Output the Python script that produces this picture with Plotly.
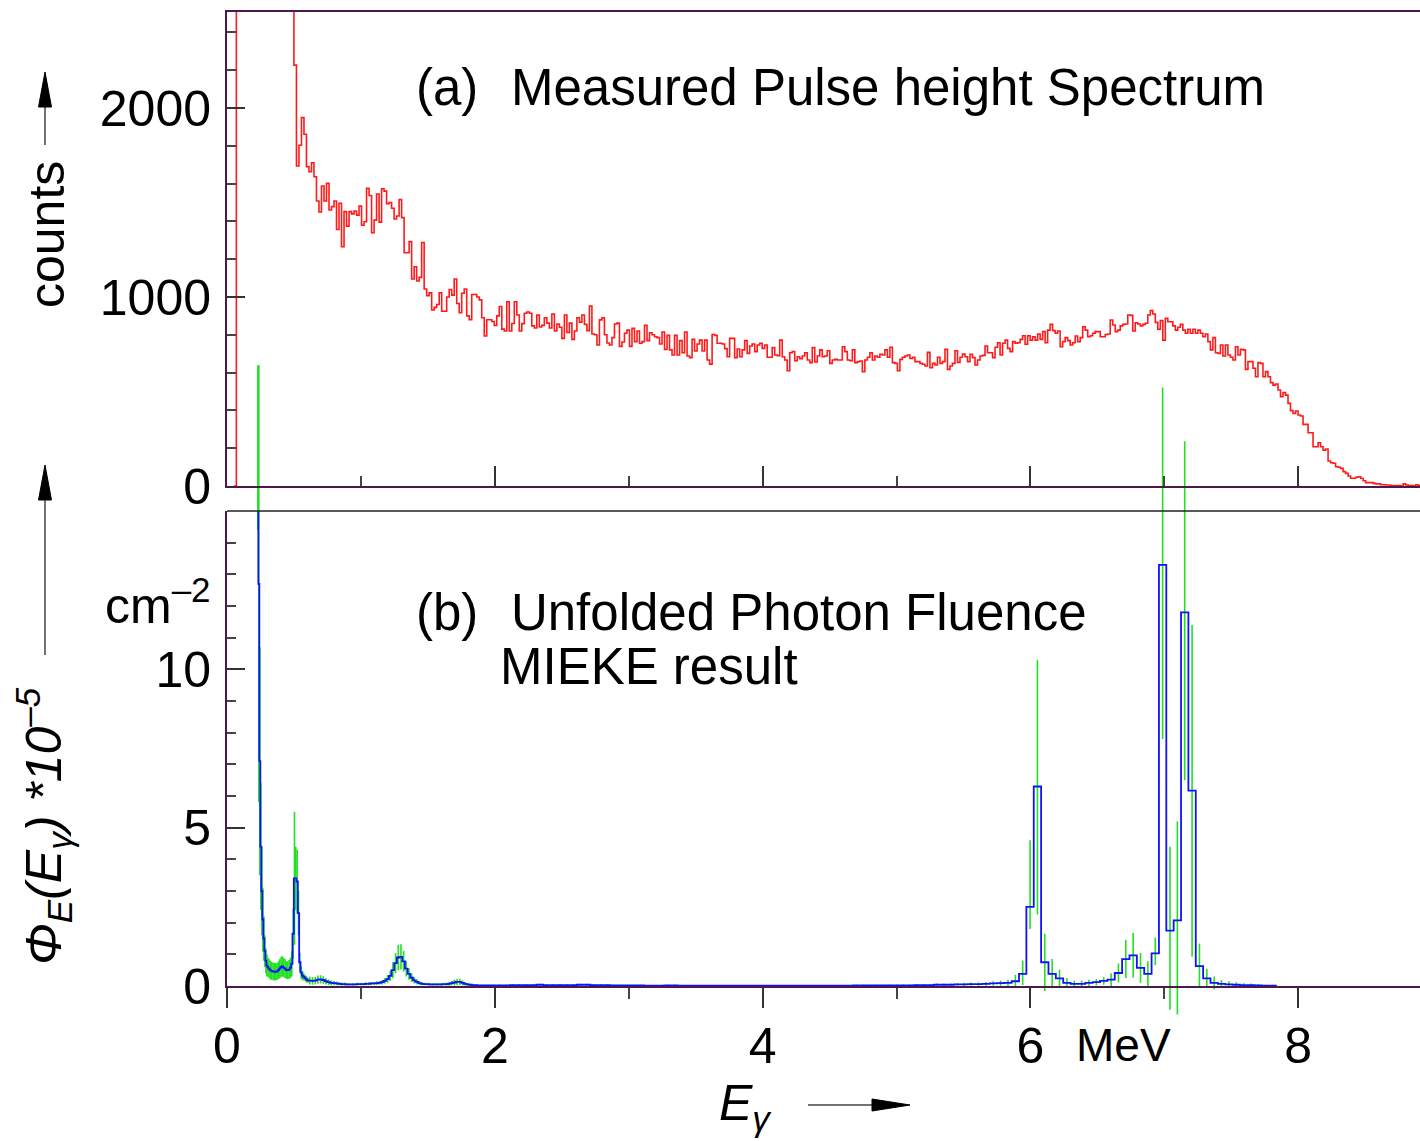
import numpy as np
import plotly.graph_objects as go

# ---------------- measured pulse height spectrum (counts per channel) ----------------
RED_START = 0.0512          # MeV, left edge of first channel
RED_BIN = 0.0187            # MeV per channel

# below 0.5 MeV the spectrum is off scale
RED_LOW = [0, 9200, 8700, 8100, 7600, 7000, 6600, 6200, 5800, 5500, 5200, 4900,
           4700, 4500, 4300, 4100, 3900, 3700, 3600, 3400, 3300, 3100, 3000, 2900]

RED_A = [2227, 1693, 1803, 1949, 1861, 1690, 1663, 1710, 1636, 1508,
         1450, 1587, 1508, 1601, 1460, 1478, 1508, 1357, 1496, 1266,
         1452, 1375, 1452, 1440, 1455, 1433, 1481, 1380, 1398, 1575,
         1537, 1340, 1407, 1545, 1396, 1573, 1560, 1494, 1500, 1470,
         1413, 1429, 1515, 1420, 1234, 1234, 1293, 1095, 1160, 1085,
         1104, 1288, 1042, 1007, 1022, 931, 945, 960, 1022, 925,
         925, 1000, 1040, 1010, 1095, 966, 917, 1020, 1042, 900,
         880, 1013, 1013, 1000, 985, 890, 794, 880, 880, 870,
         850, 900, 950, 830, 820, 975, 820, 860, 975, 905]

RED_B = [820, 859, 914, 921, 914, 847, 836, 905, 841, 850,
         890, 862, 836, 910, 820, 857, 840, 781, 905, 812,
         862, 776, 820, 890, 867, 905, 855, 822, 952, 804,
         800, 746, 879, 890, 800, 757, 746, 785, 857, 862,
         739, 762, 808, 825, 739, 834, 764, 820, 755, 764,
         850, 769, 811, 800, 790, 785, 751, 815, 723, 797,
         720, 693, 797, 693, 769, 705, 815, 688, 679, 776,
         714, 751, 772, 714, 772, 667, 645, 802, 797, 755,
         755, 751, 727, 684, 781, 781, 679, 725, 684, 720,
         769, 702, 741, 751]

RED_C = [711, 746, 755, 728, 746, 681, 681, 732, 693, 690,
         772, 684, 667, 610, 705, 711, 663, 684, 674, 688,
         705, 667, 653, 732, 656, 688, 720, 684, 688, 716,
         649, 667, 670, 667, 667, 737, 711, 667, 663, 720,
         653, 658, 661, 605, 667, 681, 705, 667, 688, 681,
         697, 693, 720, 681, 734, 653, 649, 610, 670, 681,
         688, 693, 675, 681, 658, 658, 649, 644, 635, 707,
         626, 649, 640, 681, 649, 658, 723, 617, 635, 649,
         716, 654, 681, 698, 684, 658, 697, 679, 640, 667,
         688, 691, 741, 705]

RED_D = [705, 679, 734, 758, 693, 755, 772, 728, 711, 764,
         755, 758, 776, 795, 750, 795, 772, 790, 772, 804,
         776, 817, 758, 825, 855, 822, 808, 820, 737, 764,
         785, 769, 746, 758, 794, 764, 785, 843, 825, 790,
         795, 808, 817, 817, 790, 790, 802, 804, 878, 852,
         817, 825, 847, 855, 857, 905, 903, 820, 864, 857,
         847, 855, 861, 905, 928, 910, 866, 829, 875, 772,
         887, 869, 869, 847, 825, 840, 855, 825, 808, 829,
         808, 829, 808, 825, 808, 790, 804, 764, 720, 785,
         705, 702, 746, 688]

RED_E = [746, 693, 681, 667, 737, 693, 723, 720, 617, 658,
         658, 623, 578, 653, 649, 578, 605, 578, 547, 534,
         540, 508, 473, 494, 481, 437, 399, 384, 397, 376,
         370, 326, 326, 282, 282, 208, 208, 229, 208, 190,
         196, 132, 123, 120, 102, 99, 93, 76, 67, 53,
         41, 41, 46, 49, 41, 28, 18, 18, 18, 14,
         11, 11, 7, 7, 5, 5, 2, 2, 2, 2,
         0, 11, 5, 2, 2, 0, 7, 2]

# ---------------- unfolded photon fluence (1e-5 cm^-2), MIEKE result ----------------
# segments of equal bin width: (left edge, width) with values and errors
SEG_START = [0.2265, 0.309, 0.609, 2.009, 5.53]
SEG_WIDTH = [0.0075, 0.01, 0.02, 0.0503, 0.055]

PHI_1 = [17.0, 12.7, 7.1, 4.4, 3.0, 2.1, 1.5, 1.1, 0.8, 0.65, 0.6]
ERR_1 = [2.6, 6.9, 3.6, 2.0, 1.4, 1.0, 0.7, 0.5, 0.4, 0.35, 0.3]

PHI_2 = [0.55, 0.5, 0.48, 0.46, 0.45, 0.45, 0.46, 0.5, 0.55, 0.6,
         0.62, 0.58, 0.55, 0.5, 0.5, 0.52, 0.58, 0.7, 1.65, 3.4,
         3.4, 3.3, 2.3, 0.75, 0.42, 0.33, 0.29, 0.25, 0.21, 0.18]
ERR_2 = [0.3, 0.3, 0.28, 0.28, 0.28, 0.27, 0.27, 0.28, 0.3, 0.32,
         0.32, 0.3, 0.3, 0.28, 0.28, 0.3, 0.32, 0.4, 0.8, 2.1,
         1.0, 1.0, 0.7, 0.3, 0.2, 0.15, 0.12, 0.1, 0.1, 0.08]

PHI_3 = [0.17, 0.16, 0.17, 0.2, 0.21, 0.19, 0.15, 0.12, 0.1, 0.09,
         0.08, 0.07, 0.06, 0.06, 0.05, 0.05, 0.05, 0.05, 0.06, 0.06,
         0.06, 0.07, 0.07, 0.08, 0.08, 0.09, 0.1, 0.12, 0.16, 0.22,
         0.32, 0.5, 0.72, 0.9, 0.92, 0.78, 0.55, 0.38, 0.26, 0.18,
         0.13, 0.09, 0.07, 0.06, 0.06, 0.05, 0.05, 0.05, 0.05, 0.05,
         0.06, 0.06, 0.07, 0.09, 0.11, 0.13, 0.13, 0.1, 0.07, 0.05,
         0.04, 0.03, 0.03, 0.02, 0.02, 0.02, 0.02, 0.02, 0.02, 0.02]
ERR_3 = [0.12, 0.12, 0.12, 0.13, 0.13, 0.12, 0.1, 0.09, 0.08, 0.07,
         0.06, 0.05, 0.05, 0.05, 0.04, 0.04, 0.04, 0.04, 0.04, 0.04,
         0.04, 0.05, 0.05, 0.05, 0.05, 0.06, 0.06, 0.07, 0.09, 0.12,
         0.16, 0.25, 0.32, 0.4, 0.4, 0.33, 0.25, 0.18, 0.13, 0.1,
         0.08, 0.06, 0.05, 0.04, 0.04, 0.04, 0.04, 0.04, 0.04, 0.04,
         0.04, 0.05, 0.06, 0.07, 0.09, 0.1, 0.1, 0.08, 0.06, 0.04,
         0.03, 0.03, 0.03, 0.02, 0.02, 0.02, 0.02, 0.02, 0.02, 0.02]

PHI_4 = [0.02, 0.02, 0.03, 0.03, 0.03, 0.03, 0.04, 0.03, 0.03, 0.03,
         0.03, 0.03, 0.04, 0.04, 0.03, 0.03, 0.03, 0.02, 0.02, 0.02,
         0.02, 0.02, 0.01, 0.01, 0.01, 0.02, 0.02, 0.01, 0.01, 0.01,
         0.01, 0.01, 0.01, 0.01, 0.01, 0.01, 0.01, 0.01, 0.01, 0.01,
         0.01, 0.01, 0.01, 0.01, 0.01, 0.01, 0.01, 0.01, 0.01, 0.01,
         0.01, 0.01, 0.01, 0.02, 0.02, 0.02, 0.02, 0.02, 0.02, 0.02,
         0.02, 0.02, 0.03, 0.03, 0.03, 0.04, 0.04, 0.04, 0.05, 0.05]
ERR_4 = [0.03, 0.03, 0.03, 0.03, 0.03, 0.03, 0.03, 0.03, 0.03, 0.03,
         0.03, 0.03, 0.03, 0.03, 0.03, 0.03, 0.03, 0.02, 0.02, 0.02,
         0.02, 0.02, 0.02, 0.02, 0.02, 0.02, 0.02, 0.02, 0.02, 0.02,
         0.02, 0.02, 0.02, 0.02, 0.02, 0.02, 0.02, 0.02, 0.02, 0.02,
         0.02, 0.02, 0.02, 0.02, 0.02, 0.02, 0.02, 0.02, 0.02, 0.02,
         0.02, 0.02, 0.02, 0.02, 0.02, 0.02, 0.02, 0.02, 0.03, 0.03,
         0.03, 0.03, 0.03, 0.03, 0.03, 0.04, 0.04, 0.04, 0.04, 0.05]

PHI_5 = [0.06, 0.06, 0.07, 0.08, 0.09, 0.1, 0.15, 0.38, 2.5, 6.3,
         0.75, 0.38, 0.24, 0.1, 0.07, 0.07, 0.1, 0.12, 0.16, 0.2,
         0.41, 0.85, 0.97, 0.57, 0.38, 1.03, 13.3, 1.75, 2.07, 11.8,
         6.17, 0.63, 0.24, 0.1, 0.07, 0.05, 0.04, 0.03, 0.03, 0.02,
         0.01, 0.01]
ERR_5_UP = [0.05, 0.05, 0.06, 0.07, 0.08, 0.1, 0.2, 0.42, 2.1, 4.0,
            0.9, 0.47, 0.28, 0.15, 0.1, 0.1, 0.1, 0.1, 0.12, 0.2,
            0.3, 0.6, 0.7, 0.47, 0.4, 0.5, 5.6, 2.65, 3.13, 5.4,
            5.23, 0.71, 0.3, 0.2, 0.12, 0.1, 0.08, 0.06, 0.05, 0.04,
            0.03, 0.03]
ERR_5_DN = [0.05, 0.05, 0.06, 0.07, 0.08, 0.1, 0.15, 0.35, 0.7, 4.04,
            0.91, 0.45, 0.27, 0.15, 0.1, 0.1, 0.1, 0.1, 0.12, 0.2,
            0.3, 0.6, 0.7, 0.47, 0.4, 0.37, 5.5, 2.5, 2.97, 5.3,
            5.25, 0.66, 0.3, 0.2, 0.12, 0.1, 0.08, 0.06, 0.05, 0.04,
            0.03, 0.03]

# ---------------- geometry ----------------
W, H = 1420, 1141
ML, MR, MT, MB = 227, 0, 12, 121
PW, PH = W - ML - MR, H - MT - MB
X_MAX = PW / 133.9

def py(p):   # pixel row -> paper y
    return (H - MB - p) / PH

def px(p):   # pixel column -> paper x
    return (p - ML) / PW

TOP_DOM = [py(486), 1.0]
BOT_DOM = [py(986), py(511)]
PHI_MAX = 15.0
scale = (986 - 511) / PHI_MAX                  # px per unit
GREEN_RANGE = [-(H - MB - 986) / scale, (986 - MT) / scale]

FONT = "Liberation Sans, Arial, sans-serif"
AXC = "#4a1a4a"
RED, BLUE, GREEN = "#ff1a1a", "#1010ff", "#22e022"

# red histogram
counts = RED_LOW + RED_A + RED_B + RED_C + RED_D + RED_E
red_x = RED_START + RED_BIN * np.arange(len(counts) + 1)
red_y = counts + [counts[-1]]

fig = go.Figure()
fig.add_trace(go.Scatter(x=red_x, y=red_y, mode="lines",
                         line=dict(color=RED, width=1.6, shape="hv"),
                         xaxis="x2", yaxis="y", showlegend=False, hoverinfo="skip"))

# green error bars (not clipped to lower panel) and blue histogram
segs = [(PHI_1, ERR_1, ERR_1), (PHI_2, ERR_2, ERR_2), (PHI_3, ERR_3, ERR_3),
        (PHI_4, ERR_4, ERR_4), (PHI_5, ERR_5_UP, ERR_5_DN)]
blue_x, blue_y = [], []
for (vals, up, dn), x0, w in zip(segs, SEG_START, SEG_WIDTH):
    edges = x0 + w * np.arange(len(vals))
    blue_x += list(edges)
    blue_y += list(vals)
    fig.add_trace(go.Scatter(
        x=edges + w / 2, y=vals, mode="markers",
        marker=dict(size=1, color="rgba(0,0,0,0)"),
        error_y=dict(type="data", array=up, arrayminus=dn, symmetric=False,
                     color=GREEN, thickness=1.6, width=0),
        xaxis="x", yaxis="y2", showlegend=False, hoverinfo="skip"))
blue_x.append(SEG_START[-1] + SEG_WIDTH[-1] * len(PHI_5))
blue_y.append(blue_y[-1])
fig.add_trace(go.Scatter(x=blue_x, y=blue_y, mode="lines",
                         line=dict(color=BLUE, width=1.8, shape="hv"),
                         xaxis="x", yaxis="y3", showlegend=False, hoverinfo="skip"))

tick_font = dict(family=FONT, size=50, color="black")

fig.update_layout(
    width=W, height=H,
    margin=dict(l=ML, r=MR, t=MT, b=MB, pad=0),
    paper_bgcolor="white", plot_bgcolor="rgba(0,0,0,0)",
    font=dict(family=FONT, size=50, color="black"),
    xaxis=dict(domain=[0, 1], range=[0, X_MAX], anchor="y3",
               showline=True, linecolor=AXC, linewidth=2,
               ticks="outside", tickvals=[0, 2, 4, 6, 8], ticklen=20, tickwidth=1.5,
               tickcolor="#333", tickfont=tick_font, ticklabelstandoff=-5,
               minor=dict(tickvals=[1, 3, 5, 7], ticks="outside", ticklen=11,
                          tickwidth=1.5, tickcolor="#444"),
               showgrid=False, zeroline=False),
    xaxis2=dict(domain=[0, 1], range=[0, X_MAX], anchor="y",
                showline=True, mirror=True, linecolor=AXC, linewidth=2,
                ticks="inside", tickvals=[2, 4, 6, 8], ticklen=20, tickwidth=1.5,
                tickcolor="#333", showticklabels=False,
                minor=dict(tickvals=[1, 3, 5, 7], ticks="inside", ticklen=10,
                           tickwidth=1.5, tickcolor="#444"),
                showgrid=False, zeroline=False),
    yaxis=dict(domain=TOP_DOM, range=[0, 2508], anchor="x2",
               showline=True, linecolor=AXC, linewidth=2,
               ticks="inside", tickvals=[0, 1000, 2000], ticklen=18, tickwidth=1.5,
               tickcolor="#333", tickfont=tick_font, ticklabelstandoff=4,
               minor=dict(dtick=200, ticks="inside", ticklen=9,
                          tickwidth=1.5, tickcolor="#444"),
               showgrid=False, zeroline=False),
    yaxis2=dict(domain=[0, 1], range=GREEN_RANGE, anchor="x", visible=False),
    yaxis3=dict(domain=BOT_DOM, range=[0, PHI_MAX], anchor="x",
                showline=True, linecolor=AXC, linewidth=2,
                ticks="inside", tickvals=[0, 5, 10], ticklen=18, tickwidth=1.5,
                tickcolor="#333", tickfont=tick_font, ticklabelstandoff=4,
                minor=dict(dtick=1, ticks="inside", ticklen=9,
                           tickwidth=1.5, tickcolor="#444"),
                showgrid=False, zeroline=False),
)

# frame line on top of the lower panel
fig.add_shape(type="line", xref="paper", yref="paper", x0=0, x1=1,
              y0=BOT_DOM[1], y1=BOT_DOM[1], line=dict(color="#222", width=1.5))

# arrows beside the axis titles
def up_arrow(xp, tail, base, tip):
    fig.add_shape(type="line", xref="paper", yref="paper",
                  x0=px(xp), x1=px(xp), y0=py(tail), y1=py(base),
                  line=dict(color="#444", width=1.5))
    fig.add_shape(type="path", xref="paper", yref="paper",
                  path=f"M {px(xp - 6.5)} {py(base)} L {px(xp)} {py(tip)} "
                       f"L {px(xp + 6.5)} {py(base)} Z",
                  fillcolor="black", line=dict(color="black", width=1))

up_arrow(45, 145, 107, 72)
up_arrow(45, 655, 500, 465)
fig.add_shape(type="line", xref="paper", yref="paper",
              x0=px(808), x1=px(875), y0=py(1105), y1=py(1105),
              line=dict(color="#444", width=1.5))
fig.add_shape(type="path", xref="paper", yref="paper",
              path=f"M {px(872)} {py(1099)} L {px(910)} {py(1105)} L {px(872)} {py(1111)} Z",
              fillcolor="black", line=dict(color="black", width=1))

def note(text, x, y, xanchor="left", angle=0, size=51):
    fig.add_annotation(text=text, xref="paper", yref="paper", x=px(x), y=py(y),
                       xanchor=xanchor, yanchor="middle", textangle=angle,
                       showarrow=False, font=dict(family=FONT, size=size, color="black"))

GAP = "\u00a0\u00a0\u200a"
note("(a)" + GAP + "Measured Pulse height Spectrum", 414, 88)
note("(b)" + GAP + "Unfolded Photon Fluence", 414, 612)
note("MIEKE result", 498, 666)
note("cm<sup>\u20132</sup>", 103, 602, size=50)
note("MeV", 1074, 1045, size=46)
note("counts", 47, 235, xanchor="center", angle=-90, size=50)
note("<i>\u03a6<sub>E</sub>(E<sub>\u03b3</sub>) *10<sup>\u20135</sup></i>", 43, 826,
     xanchor="center", angle=-90, size=50)
note("<i>E<sub>\u03b3</sub></i>", 745, 1106, xanchor="center", size=50)

fig.write_html("out.html", config={"displayModeBar": False},
               post_script="document.body.style.margin='0';")
